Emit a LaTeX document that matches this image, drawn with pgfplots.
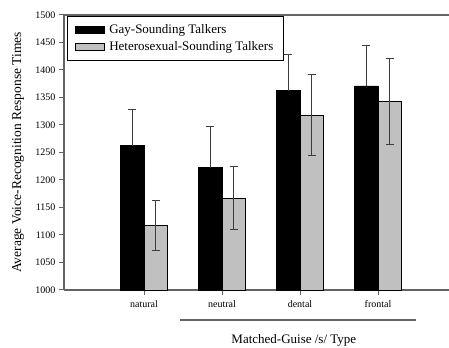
\documentclass[border=0pt]{standalone}
\usepackage{fontspec}
\setmainfont{Liberation Serif}
\usepackage{pgfplots}
\pgfplotsset{compat=1.18}
\usetikzlibrary{calc}
\definecolor{barfill}{RGB}{192,192,192}
\definecolor{spine}{RGB}{100,100,100}
\definecolor{errc}{RGB}{60,60,60}
\begin{document}
\begin{tikzpicture}
\begin{axis}[name=ax,
  width=385pt, height=275pt, scale only axis,
  xmin=-1.026, xmax=3.91, ymin=1000, ymax=1500,
  ybar=0pt, bar width=0.3,
  axis x line=box, axis y line=left,
  axis line style={-, spine, line width=1.2pt},
  xtick={0,1,2,3}, xticklabels={natural,neutral,dental,frontal},
  ytick={1000,1050,...,1500},
  xtick pos=bottom, ytick pos=left,
  tick align=outside, major tick length=5pt,
  tick style={spine, line width=1pt},
  /pgf/number format/1000 sep={},
  /pgf/number format/assume math mode=true,
  ticklabel style={font=\fontsize{10}{12}\selectfont},
  xticklabel style={yshift=-2pt},
  ylabel={Average Voice-Recognition Response Times},
  ylabel style={at={(rel axis cs:-0.1195,0.5)}, anchor=center, font=\fontsize{13.5}{15}\selectfont},
  xlabel={Matched-Guise /s/ Type},
  xlabel style={at={(rel axis cs:0.597,0)}, anchor=center, yshift=-50pt, font=\fontsize{13}{15}\selectfont},
  clip=false,
  legend style={at={(rel axis cs:0.008,0.996)}, anchor=north west, draw=black, line width=0.8pt,
    font=\fontsize{13}{15}\selectfont, inner xsep=8pt, inner ysep=6pt, row sep=2.5pt,
    /tikz/every odd column/.append style={column sep=2pt}},
  legend cell align=left,
  legend image code/.code={\draw[#1, line width=0.8pt] (0pt,-3.5pt) rectangle (29pt,3.5pt);},
]
\addplot[fill=black, draw=black, line width=0.8pt,
  error bars/.cd, y dir=plus, y explicit,
  error bar style={line width=0.9pt, errc},
  error mark options={rotate=90, mark size=4pt, line width=0.9pt, errc}]
  coordinates {(0,1262) +- (0,67) (1,1222) +- (0,76) (2,1362) +- (0,67) (3,1371) +- (0,74)};
\addplot[fill=barfill, draw=black, line width=0.8pt,
  error bars/.cd, y dir=both, y explicit,
  error bar style={line width=0.9pt, errc},
  error mark options={rotate=90, mark size=4pt, line width=0.9pt, errc}]
  coordinates {(0,1117) +- (0,45) (1,1167) +- (0,57) (2,1318) +- (0,73) (3,1343) +- (0,78)};
\legend{Gay-Sounding Talkers, Heterosexual-Sounding Talkers}
\draw[spine, line width=1.2pt] ([yshift=-30pt]axis cs:0.46,1000) -- ([yshift=-30pt]axis cs:3.49,1000);
\end{axis}
\pgfresetboundingbox
\path ($(ax.south west)+(-64pt,-58pt)$) rectangle ($(ax.north east)+(0,15pt)$);
\end{tikzpicture}
\end{document}
